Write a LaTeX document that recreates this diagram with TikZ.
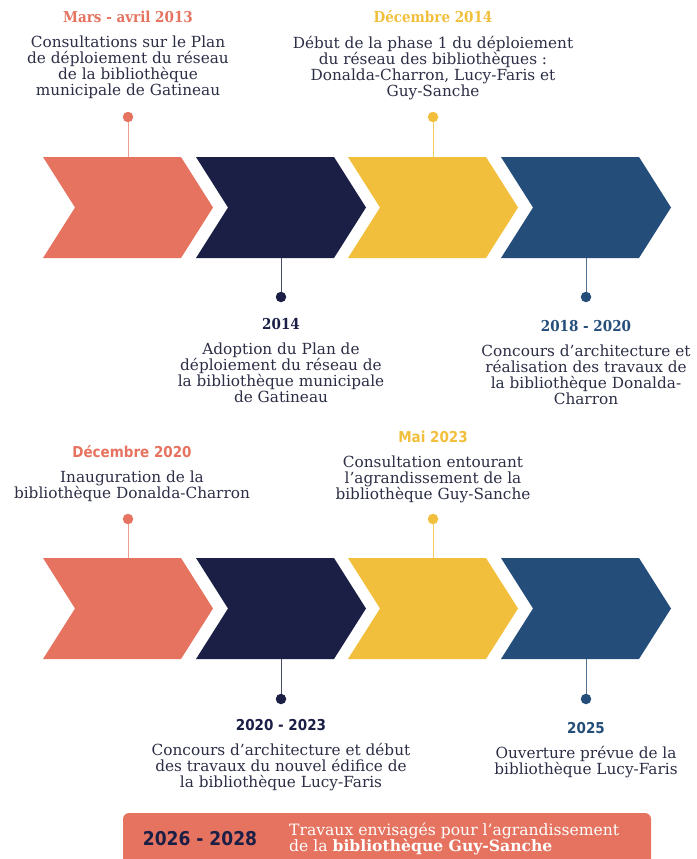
\documentclass[tikz,border=0pt]{standalone}
\usepackage{fontspec}
\setmainfont{DejaVu Serif}
\newfontfamily\headserif{DejaVu Serif Condensed Bold}
\newfontfamily\headsans{DejaVu Sans Condensed Bold}
\usepackage{xcolor}
\usepackage{tikz}
\usetikzlibrary{positioning}

\definecolor{coral}{HTML}{E5735F}
\definecolor{navy}{HTML}{1B1F46}
\definecolor{gold}{HTML}{F2BF3C}
\definecolor{steel}{HTML}{244E79}
\definecolor{ink}{HTML}{2B2E45}

\begin{document}
\begin{tikzpicture}[x=1pt, y=-1pt,
  dot/.style={circle, inner sep=0pt, minimum size=10.5pt},
  stem/.style={line width=0.8pt},
  when/.style={font=\headserif\fontsize{15}{17}\selectfont},
  whenalt/.style={font=\headsans\fontsize{15}{17}\selectfont},
  what/.style={font=\fontsize{15.3}{16}\selectfont, text=ink, align=center, inner sep=0pt}]

\useasboundingbox (0,0) rectangle (696,859);

% First row of chevrons
\fill[coral] (43,157) -- (181,157) -- (213,207.5) -- (181,258) -- (43,258) -- (75,207.5) -- cycle;
\fill[navy]  (196,157) -- (334,157) -- (366,207.5) -- (334,258) -- (196,258) -- (228,207.5) -- cycle;
\fill[gold]  (348,157) -- (486,157) -- (518,207.5) -- (486,258) -- (348,258) -- (380,207.5) -- cycle;
\fill[steel] (501,157) -- (639,157) -- (671,207.5) -- (639,258) -- (501,258) -- (533,207.5) -- cycle;

% Second row of chevrons
\fill[coral] (43,558) -- (181,558) -- (213,608.5) -- (181,659) -- (43,659) -- (75,608.5) -- cycle;
\fill[navy]  (196,558) -- (334,558) -- (366,608.5) -- (334,659) -- (196,659) -- (228,608.5) -- cycle;
\fill[gold]  (348,558) -- (486,558) -- (518,608.5) -- (486,659) -- (348,659) -- (380,608.5) -- cycle;
\fill[steel] (501,558) -- (639,558) -- (671,608.5) -- (639,659) -- (501,659) -- (533,608.5) -- cycle;

% Attachment points on the chevrons
\coordinate (a1) at (128,157);
\coordinate (a2) at (281,258);
\coordinate (a3) at (433,157);
\coordinate (a4) at (586,258);
\coordinate (b1) at (128,558);
\coordinate (b2) at (281,659);
\coordinate (b3) at (433,558);
\coordinate (b4) at (586,659);

% Dots and stems
\node[dot, fill=coral] (p1) at (128,117) {};
\node[dot, fill=navy]  (p2) at (281,297) {};
\node[dot, fill=gold]  (p3) at (433,117) {};
\node[dot, fill=steel] (p4) at (586,297) {};
\node[dot, fill=coral] (q1) at (128,519) {};
\node[dot, fill=navy]  (q2) at (281,699) {};
\node[dot, fill=gold]  (q3) at (433,519) {};
\node[dot, fill=steel] (q4) at (586,699) {};

\draw[stem, coral!70] (p1) -- (a1);
\draw[stem, navy!80]  (p2) -- (a2);
\draw[stem, gold!80]  (p3) -- (a3);
\draw[stem, steel!80] (p4) -- (a4);
\draw[stem, coral!70] (q1) -- (b1);
\draw[stem, navy!80]  (q2) -- (b2);
\draw[stem, gold!80]  (q3) -- (b3);
\draw[stem, steel!80] (q4) -- (b4);

% Dates and descriptions, first row
\node[when, text=coral] (h1) at (128,17) {Mars - avril 2013};
\node[what, below=9pt of h1] (t1) {Consultations sur le Plan\\de déploiement du réseau\\de la bibliothèque\\municipale de Gatineau};

\node[when, text=gold] (h3) at (433,17) {Décembre 2014};
\node[what, below=9pt of h3] (t3) {Début de la phase 1 du déploiement\\du réseau des bibliothèques :\\Donalda-Charron, Lucy-Faris et\\Guy-Sanche};

\node[when, text=navy] (h2) at (281,324) {2014};
\node[what, below=9pt of h2] (t2) {Adoption du Plan de\\déploiement du réseau de\\la bibliothèque municipale\\de Gatineau};

\node[when, text=steel] (h4) at (586,326) {2018 - 2020};
\node[what, below=9pt of h4] (t4) {Concours d’architecture et\\réalisation des travaux de\\la bibliothèque Donalda-\\Charron};

% Dates and descriptions, second row
\node[whenalt, text=coral] (k1) at (132,452) {Décembre 2020};
\node[what, below=9pt of k1] (u1) {Inauguration de la\\bibliothèque Donalda-Charron};

\node[whenalt, text=gold] (k3) at (433,437) {Mai 2023};
\node[what, below=9pt of k3] (u3) {Consultation entourant\\l’agrandissement de la\\bibliothèque Guy-Sanche};

\node[whenalt, text=navy] (k2) at (281,725) {2020 - 2023};
\node[what, below=9pt of k2] (u2) {Concours d’architecture et début\\des travaux du nouvel édifice de\\la bibliothèque Lucy-Faris};

\node[whenalt, text=steel] (k4) at (586,728) {2025};
\node[what, below=9pt of k4] (u4) {Ouverture prévue de la\\bibliothèque Lucy-Faris};

% Closing banner
\fill[coral, rounded corners=6pt] (123,813) rectangle (651,875);
\node[font=\headsans\fontsize{19}{22}\selectfont, text=navy] (k5) at (200,839) {2026 - 2028};
\node[font=\fontsize{15.6}{15}\selectfont, text=white, align=left, anchor=west, inner sep=0pt] (u5) at (289,839)
  {Travaux envisagés pour l’agrandissement\\de la \textbf{bibliothèque Guy-Sanche}};

\end{tikzpicture}
\end{document}
